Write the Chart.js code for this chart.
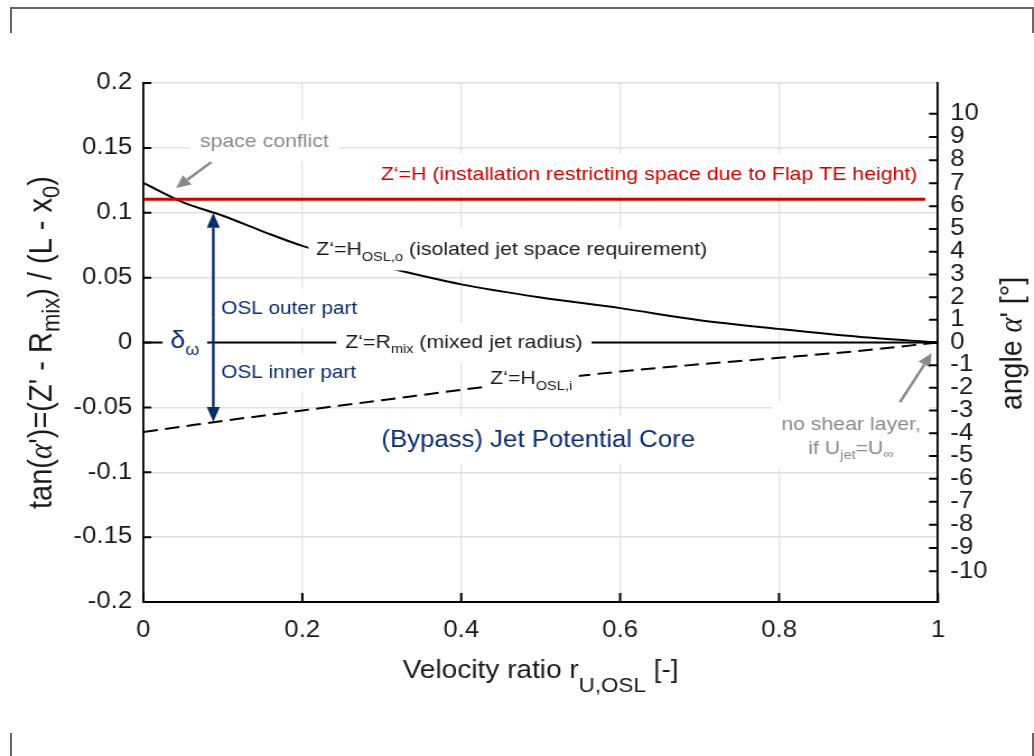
<!DOCTYPE html>
<html>
<head>
<meta charset="utf-8">
<script src="https://cdn.jsdelivr.net/npm/chart.js@4.4.1/dist/chart.umd.min.js"></script>
<style>
  html, body { margin: 0; padding: 0; background: #fff; overflow: hidden; }
  #wrap { position: relative; width: 1034px; height: 756px; }
  /* the reference glyphs are ~12% wider than Arial, so the canvas is drawn narrower and stretched */
  #chart { position: absolute; left: 0; top: 0; transform-origin: 0 0; transform: scaleX(1.1202); }
  .frame { position: absolute; background: #666; }
</style>
</head>
<body>
<div id="wrap">
  <canvas id="chart" width="923" height="756"></canvas>
  <div class="frame" style="left:10px; top:7px; width:1024px; height:2px"></div>
  <div class="frame" style="left:10px; top:7px; width:2px; height:26px"></div>
  <div class="frame" style="left:1032px; top:7px; width:2px; height:26px"></div>
  <div class="frame" style="left:10px; top:733px; width:2px; height:23px"></div>
  <div class="frame" style="left:1032px; top:733px; width:2px; height:23px"></div>
</div>
<script>
// velocity ratio samples and boundaries
const rValues = [0, 0.05, 0.1, 0.15, 0.2, 0.3, 0.4, 0.5, 0.6, 0.7, 0.8, 0.9, 1];
const outerBoundary = [0.123, 0.108, 0.0977, 0.0857, 0.0745, 0.0587, 0.0448, 0.0347, 0.0265, 0.0172, 0.0105, 0.0045, 0];
const innerBoundary = [-0.069, -0.0647, -0.0604, -0.0564, -0.0524, -0.0445, -0.0365, -0.029, -0.0224, -0.0168, -0.0118, -0.0065, 0];
const mixedRadius = [0, 0, 0, 0, 0, 0, 0, 0, 0, 0, 0, 0, 0];
const flapX = [0, 0.984];
const flapHeight = [0.1105, 0.1105];

const xTickValues = [0, 0.2, 0.4, 0.6, 0.8, 1];
const xTickLabels = ["0", "0.2", "0.4", "0.6", "0.8", "1"];
const yTickValues = [-0.2, -0.15, -0.1, -0.05, 0, 0.05, 0.1, 0.15, 0.2];
const yTickLabels = ["-0.2", "-0.15", "-0.1", "-0.05", "0", "0.05", "0.1", "0.15", "0.2"];
const angleTicks = [-10, -9, -8, -7, -6, -5, -4, -3, -2, -1, 0, 1, 2, 3, 4, 5, 6, 7, 8, 9, 10];

const SANS = "'Liberation Sans', Arial, Helvetica, sans-serif";
const SERIF = "'Liberation Serif', 'DejaVu Serif', serif";
const NAVY = "#0c2c6c";
const GRAY = "#8a8a8a";
const RED = "#cc0000";
const INK = "#1a1a1a";

const deg2tan = d => Math.tan(d * Math.PI / 180);
const pts = (xs, ys) => xs.map((x, i) => ({ x: x, y: ys[i] }));

// annotation texts: position in data units, parts = [text, size, dy, italicSerif]
const notes = [
    { x: 0.1522, y: 0.155, align: "center", color: GRAY, box: [9, 21, 19], parts: [["space conflict", 19]] },
    { x: 0.6365, y: 0.1295, align: "center", color: RED, box: [9, 21, 21], parts: [["Z\u2018=H (installation restricting space due to Flap TE height)", 19]] },
    { x: 0.2176, y: 0.0717, align: "left", color: INK, box: [7, 22, 21], parts: [["Z\u2018=H", 19], ["OSL,o", 13, 8], [" (isolated jet space requirement)", 19]] },
    { x: 0.034, y: 0.001, align: "left", color: NAVY, box: [7, 20, 20], parts: [["\u03b4", 24], ["\u03c9", 16, 9]] },
    { x: 0.2541, y: 0, align: "left", color: INK, box: [8, 20, 20], parts: [["Z\u2018=R", 19], ["mix", 13, 7], [" (mixed jet radius)", 19]] },
    { x: 0.4365, y: -0.0278, align: "left", color: INK, box: [6, 20, 20], parts: [["Z\u2018=H", 19], ["OSL,i", 13, 8]] },
    { x: 0.0981, y: 0.0262, align: "left", color: NAVY, box: [4, 20, 19], parts: [["OSL outer part", 18.5]] },
    { x: 0.0981, y: -0.0231, align: "left", color: NAVY, box: [4, 19, 19], parts: [["OSL inner part", 18.5]] },
    { x: 0.4969, y: -0.0756, align: "center", color: NAVY, box: [8, 25, 23], parts: [["(Bypass) Jet Potential Core", 23]] },
    { x: 0.8906, y: -0.0632, align: "center", color: GRAY, box: [8, 24, 44], parts: [["no shear layer,", 19]] },
    { x: 0.8906, y: -0.0817, align: "center", color: GRAY, parts: [["if U", 19], ["jet", 13, 7], ["=U", 19], ["\u221e", 13, 6]] }
];

// arrows in data units: [x1, y1, x2, y2]
const grayArrows = [[0.0855, 0.139, 0.0411, 0.119], [0.9522, -0.046, 0.992, -0.0083]];
const deltaArrow = { x: 0.088, top: 0.1, bottom: -0.0612 };

function partFont(p) {
    return (p[3] ? "italic " : "") + p[1] + "px " + (p[3] ? SERIF : SANS);
}

function measureParts(ctx, parts) {
    let w = 0;
    parts.forEach(p => { ctx.font = partFont(p); w += ctx.measureText(p[0]).width; });
    return w;
}

function drawParts(ctx, parts, x, y, color, baseline) {
    ctx.textAlign = "left";
    ctx.textBaseline = baseline;
    ctx.fillStyle = color;
    parts.forEach(p => {
        ctx.font = partFont(p);
        ctx.fillText(p[0], x, y + (p[2] || 0));
        x += ctx.measureText(p[0]).width;
    });
}

function drawArrow(ctx, x1, y1, x2, y2, color, width, len, half) {
    const a = Math.atan2(y2 - y1, x2 - x1);
    const bx = x2 - len * Math.cos(a), by = y2 - len * Math.sin(a);
    ctx.strokeStyle = color;
    ctx.fillStyle = color;
    ctx.lineWidth = width;
    ctx.beginPath();
    ctx.moveTo(x1, y1);
    ctx.lineTo(bx, by);
    ctx.stroke();
    ctx.beginPath();
    ctx.moveTo(x2, y2);
    ctx.lineTo(bx + half * Math.sin(a), by - half * Math.cos(a));
    ctx.lineTo(bx - half * Math.sin(a), by + half * Math.cos(a));
    ctx.closePath();
    ctx.fill();
}

const annotations = {
    id: "annotations",
    afterDatasetsDraw(chart) {
        const { ctx, scales } = chart;
        const sx = scales.x, sy = scales.y;
        ctx.save();

        // white boxes first, they break the grid and the lines like in the original
        const placed = notes.map(n => {
            const w = measureParts(ctx, n.parts);
            const px = sx.getPixelForValue(n.x);
            const py = sy.getPixelForValue(n.y);
            const left = n.align === "center" ? px - w / 2 : px;
            return { n, w, left, py };
        });
        ctx.fillStyle = "#ffffff";
        placed.forEach(o => {
            if (!o.n.box) return;
            const [pad, up, down] = o.n.box;
            ctx.fillRect(o.left - pad, o.py - up, o.w + 2 * pad, up + down);
        });
        placed.forEach(o => drawParts(ctx, o.n.parts, o.left, o.py, o.n.color, "middle"));

        grayArrows.forEach(a => {
            drawArrow(ctx, sx.getPixelForValue(a[0]), sy.getPixelForValue(a[1]),
                sx.getPixelForValue(a[2]), sy.getPixelForValue(a[3]), GRAY, 2.5, 13, 6);
        });

        const ax = sx.getPixelForValue(deltaArrow.x);
        const top = sy.getPixelForValue(deltaArrow.top);
        const bottom = sy.getPixelForValue(deltaArrow.bottom);
        const mid = (top + bottom) / 2;
        drawArrow(ctx, ax, mid, ax, top, NAVY, 2.4, 15, 5.8);
        drawArrow(ctx, ax, mid, ax, bottom, NAVY, 2.4, 15, 5.8);
        ctx.restore();
    }
};

const axisDecor = {
    id: "axisDecor",
    afterDraw(chart) {
        const { ctx, chartArea: area, scales } = chart;
        ctx.save();

        // inward tick marks
        ctx.strokeStyle = "#000";
        ctx.lineWidth = 2;
        ctx.beginPath();
        yTickValues.forEach(v => {
            const py = scales.y.getPixelForValue(v);
            ctx.moveTo(area.left, py);
            ctx.lineTo(area.left + 7, py);
        });
        angleTicks.forEach(d => {
            const py = scales.y2.getPixelForValue(deg2tan(d));
            ctx.moveTo(area.right - 8, py);
            ctx.lineTo(area.right, py);
        });
        xTickValues.forEach(v => {
            const px = scales.x.getPixelForValue(v);
            ctx.moveTo(px, area.bottom);
            ctx.lineTo(px, area.bottom - 9);
        });
        ctx.stroke();

        // axis titles with subscripts
        const bottomTitle = [["Velocity ratio r", 25], ["U,OSL", 20, 14], [" [-]", 25]];
        const bw = measureParts(ctx, bottomTitle);
        drawParts(ctx, bottomTitle, (area.left + area.right) / 2 - bw / 2, 678, INK, "alphabetic");

        const leftTitle = [["tan(", 29], ["\u03b1", 29, 0, true], ["')=(Z' - R", 29], ["mix", 22, 7],
            [") / (L - x", 29], ["0", 22, 7], [")", 29]];
        ctx.save();
        ctx.translate(45.5, (area.top + area.bottom) / 2);
        ctx.rotate(-Math.PI / 2);
        const lw = measureParts(ctx, leftTitle);
        drawParts(ctx, leftTitle, -lw / 2, 0, INK, "alphabetic");
        ctx.restore();

        const rightTitle = [["angle ", 28.5], ["\u03b1", 28.5, 0, true], ["' [\u00b0]", 28.5]];
        ctx.save();
        ctx.translate(912, (area.top + area.bottom) / 2 + 1);
        ctx.rotate(-Math.PI / 2);
        const rw = measureParts(ctx, rightTitle);
        drawParts(ctx, rightTitle, -rw / 2, 0, INK, "alphabetic");
        ctx.restore();

        ctx.restore();
    }
};

Chart.defaults.font.family = SANS;
Chart.defaults.color = INK;

const ctx = document.getElementById("chart").getContext("2d");
new Chart(ctx, {
    type: "line",
    data: {
        datasets: [
            {
                label: "Z'=H",
                data: pts(flapX, flapHeight),
                borderColor: RED,
                borderWidth: 3,
                pointRadius: 0
            },
            {
                label: "Z'=H_OSL,o",
                data: pts(rValues, outerBoundary),
                borderColor: "#000",
                borderWidth: 2,
                pointRadius: 0,
                cubicInterpolationMode: "monotone"
            },
            {
                label: "Z'=R_mix",
                data: pts(rValues, mixedRadius),
                borderColor: "#000",
                borderWidth: 2,
                pointRadius: 0
            },
            {
                label: "Z'=H_OSL,i",
                data: pts(rValues, innerBoundary),
                borderColor: "#000",
                borderWidth: 2,
                borderDash: [13, 6.5],
                pointRadius: 0,
                cubicInterpolationMode: "monotone"
            }
        ]
    },
    options: {
        responsive: false,
        maintainAspectRatio: false,
        animation: false,
        devicePixelRatio: 1,
        layout: { padding: { top: 83, left: 0, right: 0, bottom: 0 } },
        plugins: { legend: { display: false }, tooltip: { enabled: false } },
        scales: {
            x: {
                type: "linear",
                min: 0,
                max: 1,
                afterBuildTicks: s => { s.ticks = xTickValues.map(v => ({ value: v })); },
                afterFit: s => { s.height = 154; },
                ticks: {
                    padding: 15,
                    font: { size: 23 },
                    color: INK,
                    callback: (v, i) => xTickLabels[i]
                },
                grid: { color: "#e1e1e1", lineWidth: 1.3, drawTicks: false },
                border: { display: true, color: "#000", width: 2 }
            },
            y: {
                type: "linear",
                position: "left",
                min: -0.2,
                max: 0.2,
                afterBuildTicks: s => { s.ticks = yTickValues.map(v => ({ value: v })); },
                afterFit: s => { s.width = 128; },
                ticks: {
                    padding: 10,
                    font: { size: 23 },
                    color: INK,
                    callback: (v, i) => yTickLabels[i]
                },
                grid: { color: "#e1e1e1", lineWidth: 1.5, drawTicks: false },
                border: { display: true, color: "#000", width: 1.8 }
            },
            y2: {
                type: "linear",
                position: "right",
                min: -0.2,
                max: 0.2,
                afterBuildTicks: s => { s.ticks = angleTicks.map(d => ({ value: deg2tan(d) })); },
                afterFit: s => { s.width = 85.7; },
                ticks: {
                    padding: 11,
                    autoSkip: false,
                    font: { size: 23 },
                    color: INK,
                    callback: (v, i) => String(angleTicks[i])
                },
                grid: { display: false, drawTicks: false },
                border: { display: true, color: "#000", width: 1.8 }
            }
        }
    },
    plugins: [annotations, axisDecor]
});
</script>
</body>
</html>
